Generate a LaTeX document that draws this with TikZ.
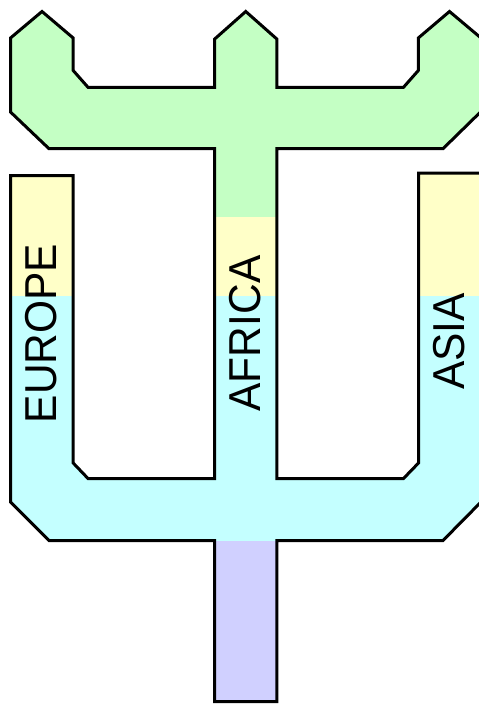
\documentclass[tikz,border=0pt]{standalone}
\usepackage{fontspec}
\setmainfont{Liberation Sans}
\definecolor{forkgreen}{RGB}{196,255,196}
\definecolor{forkyellow}{RGB}{255,255,200}
\definecolor{forkcyan}{RGB}{196,255,255}
\definecolor{stemlilac}{RGB}{208,208,255}
\begin{document}
\begin{tikzpicture}[x=1pt,y=-1pt,
  outline/.style={draw=black, line width=3pt},
  continent/.style={rotate=90, inner sep=0pt, text=black,
    font=\fontsize{44.7}{44.7}\selectfont}]
\useasboundingbox (0,0) rectangle (479,704);
% outer contour of the double fork
\def\forkpath{(42,11.5) -- (73.2,38) -- (73.2,70.5) -- (88,87.3) -- (214.7,87.3)
  -- (214.7,39) -- (245.75,11.5) -- (276.8,39) -- (276.8,87.3) -- (403.5,87.3)
  -- (418.3,70.5) -- (418.3,38) -- (449.5,11.5) -- (481,38) -- (481,111.5)
  -- (443,148.7) -- (276.8,148.7) -- (276.8,478.5) -- (403.5,478.5)
  -- (418.5,463) -- (418.5,173) -- (481,173) -- (481,502) -- (443,540.5)
  -- (276.8,540.5) -- (276.8,701.5) -- (214.7,701.5) -- (214.7,540.5)
  -- (49,540.5) -- (10.5,502) -- (10.5,175.5) -- (73.2,175.5) -- (73.2,463)
  -- (88,478.5) -- (214.7,478.5) -- (214.7,148.7) -- (49,148.7)
  -- (10.5,112) -- (10.5,38) -- cycle}
\begin{scope}
  \clip \forkpath;
  \fill[forkcyan] (0,0) rectangle (490,704);
  \fill[forkyellow] (0,148.7) rectangle (490,295.5);
  \fill[forkgreen] (0,0) rectangle (490,148.7);
  \fill[forkgreen] (214.7,148) rectangle (276.8,217);
  \fill[stemlilac] (0,540.5) rectangle (490,704);
\end{scope}
\draw[outline] \forkpath;
% continent labels
\node[continent] (europe) at (41.5,333.5) {\scalebox{0.95}[1]{EUROPE}};
\node[continent] (africa) at (245.5,333.5) {\scalebox{0.95}[1]{AFRICA}};
\node[continent] (asia) at (449,341.5) {\scalebox{0.95}[1]{ASIA}};
\end{tikzpicture}
\end{document}
